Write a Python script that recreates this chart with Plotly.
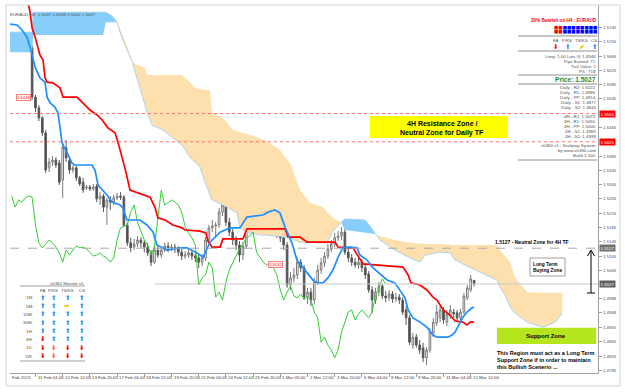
import plotly.graph_objects as go

FONT = "Liberation Sans"
SYM = "DejaVu Sans"

# ---------------- data ----------------
header_text = "EURAUD,H4  1.5037 1.5038 1.5020 1.5027"

bar_index = list(range(137))
opens = [1.5710,1.5699,1.5716,1.5704,1.5718,1.5696,1.5688,1.5550,1.5520,1.5492,
         1.5450,1.5352,1.5368,1.5374,1.5366,1.5318,1.5408,1.5374,1.5346,1.5352,
         1.5324,1.5312,1.5296,1.5298,1.5293,1.5301,1.5265,1.5273,1.5242,1.5262,
         1.5256,1.5268,1.5273,1.5270,1.5192,1.5142,1.5130,1.5139,1.5150,1.5142,
         1.5130,1.5114,1.5088,1.5122,1.5108,1.5122,1.5133,1.5128,1.5130,1.5125,
         1.5116,1.5105,1.5108,1.5114,1.5105,1.5100,1.5088,1.5100,1.5150,1.5184,
         1.5189,1.5192,1.5228,1.5248,1.5200,1.5172,1.5150,1.5136,1.5108,1.5133,
         1.5214,1.5290,1.5248,1.5256,1.5262,1.5256,1.5248,1.5228,1.5189,1.5170,
         1.5156,1.5136,1.5024,1.5044,1.5052,1.5088,1.5072,1.4990,1.5004,1.4982,
         1.5032,1.5066,1.5086,1.5105,1.5125,1.5139,1.5156,1.5161,1.5172,1.5116,
         1.5100,1.5088,1.5080,1.5088,1.5072,1.5055,1.5010,1.4982,1.5004,1.5021,
         1.4993,1.4988,1.4999,1.4985,1.4990,1.4982,1.4954,1.4932,1.4856,1.4878,
         1.4856,1.4848,1.4820,1.4842,1.4890,1.4918,1.4932,1.4954,1.4920,1.4937,
         1.4948,1.4946,1.4932,1.4948,1.4988,1.5010,1.5037]
highs = [1.5721,1.5724,1.5727,1.5730,1.5724,1.5704,1.5696,1.5556,1.5528,1.5497,
         1.5458,1.5380,1.5385,1.5382,1.5374,1.5424,1.5430,1.5385,1.5360,1.5357,
         1.5329,1.5324,1.5304,1.5304,1.5307,1.5307,1.5284,1.5279,1.5268,1.5273,
         1.5276,1.5282,1.5284,1.5276,1.5200,1.5156,1.5153,1.5161,1.5158,1.5150,
         1.5142,1.5122,1.5133,1.5133,1.5130,1.5142,1.5144,1.5139,1.5139,1.5133,
         1.5125,1.5119,1.5125,1.5122,1.5116,1.5111,1.5111,1.5158,1.5192,1.5206,
         1.5200,1.5240,1.5268,1.5254,1.5212,1.5181,1.5161,1.5147,1.5144,1.5223,
         1.5324,1.5318,1.5273,1.5276,1.5273,1.5268,1.5262,1.5237,1.5198,1.5184,
         1.5170,1.5144,1.5060,1.5072,1.5100,1.5097,1.5080,1.5016,1.5016,1.5044,
         1.5080,1.5100,1.5116,1.5139,1.5150,1.5170,1.5175,1.5186,1.5181,1.5128,
         1.5111,1.5100,1.5102,1.5097,1.5083,1.5063,1.5021,1.5016,1.5032,1.5027,
         1.5007,1.5010,1.5007,1.5002,1.4999,1.4990,1.4965,1.4940,1.4890,1.4887,
         1.4870,1.4862,1.4850,1.4904,1.4932,1.4968,1.4965,1.4962,1.4954,1.4968,
         1.4957,1.4954,1.4957,1.5002,1.5024,1.5052,1.5038]
lows = [1.5690,1.5688,1.5693,1.5696,1.5682,1.5676,1.5542,1.5508,1.5483,1.5441,
        1.5338,1.5340,1.5357,1.5352,1.5304,1.5268,1.5368,1.5335,1.5338,1.5315,
        1.5301,1.5282,1.5290,1.5287,1.5287,1.5256,1.5248,1.5228,1.5192,1.5234,
        1.5248,1.5262,1.5262,1.5186,1.5133,1.5116,1.5122,1.5130,1.5128,1.5116,
        1.5105,1.5077,1.5083,1.5100,1.5100,1.5116,1.5116,1.5119,1.5114,1.5105,
        1.5094,1.5097,1.5100,1.5094,1.5088,1.5072,1.5077,1.5091,1.5142,1.5172,
        1.5156,1.5184,1.5217,1.5189,1.5161,1.5136,1.5122,1.5088,1.5094,1.5125,
        1.5206,1.5234,1.5240,1.5245,1.5242,1.5237,1.5220,1.5178,1.5156,1.5144,
        1.5122,1.5016,1.5010,1.5032,1.5041,1.5060,1.4982,1.4971,1.4965,1.4971,
        1.5024,1.5055,1.5074,1.5097,1.5116,1.5130,1.5147,1.5150,1.5108,1.5088,
        1.5077,1.5072,1.5069,1.5060,1.5041,1.5002,1.4946,1.4971,1.4993,1.4985,
        1.4976,1.4979,1.4974,1.4976,1.4971,1.4940,1.4912,1.4856,1.4845,1.4848,
        1.4831,1.4808,1.4800,1.4834,1.4878,1.4909,1.4920,1.4915,1.4909,1.4929,
        1.4932,1.4923,1.4926,1.4943,1.4982,1.5004,1.5020]
closes = [1.5699,1.5716,1.5704,1.5721,1.5696,1.5688,1.5550,1.5520,1.5492,1.5450,
          1.5346,1.5368,1.5374,1.5360,1.5312,1.5410,1.5380,1.5346,1.5352,1.5324,
          1.5307,1.5290,1.5298,1.5293,1.5298,1.5265,1.5273,1.5242,1.5262,1.5256,
          1.5268,1.5273,1.5270,1.5192,1.5142,1.5128,1.5139,1.5150,1.5142,1.5130,
          1.5114,1.5088,1.5122,1.5108,1.5122,1.5133,1.5128,1.5130,1.5125,1.5116,
          1.5105,1.5108,1.5114,1.5105,1.5100,1.5088,1.5100,1.5150,1.5184,1.5189,
          1.5192,1.5228,1.5248,1.5200,1.5172,1.5150,1.5136,1.5108,1.5133,1.5214,
          1.5290,1.5248,1.5256,1.5262,1.5256,1.5248,1.5228,1.5189,1.5170,1.5156,
          1.5136,1.5024,1.5044,1.5052,1.5088,1.5072,1.4990,1.5004,1.4982,1.5032,
          1.5066,1.5086,1.5105,1.5125,1.5139,1.5156,1.5161,1.5172,1.5116,1.5100,
          1.5088,1.5080,1.5088,1.5072,1.5052,1.5010,1.4982,1.5004,1.5021,1.4993,
          1.4988,1.4999,1.4985,1.4990,1.4982,1.4948,1.4932,1.4864,1.4878,1.4856,
          1.4842,1.4820,1.4842,1.4892,1.4920,1.4948,1.4954,1.4926,1.4943,1.4954,
          1.4943,1.4932,1.4948,1.4993,1.5016,1.5041,1.5027]
chikou_shift = 26

kijun_bar = [4.8,5.4,6.0,6.9,8.3,9.2,9.8,10.4,12.1,14.2,15.1,19.2,20.7,23.0,25.1,
             26.6,28.3,30.4,31.3,33.3,34.8,37.1,40.7,42.1,43.0,45.1,47.4,50.1,51.0,55.4,
             57.1,57.7,58.9,61.3,62.1,68.0,69.2,80.4,81.3,84.8,86.9,95.1,96.0,100.4,101.6,
             103.3,115.1,116.6,117.4,120.1,122.1,123.9,125.1,126.9,128.9,130.4,132.7,133.9,134.8,136.0]
kijun = [1.5814,1.5788,1.5744,1.5718,1.5668,1.5654,1.5604,1.5592,1.5590,1.5576,1.5550,1.5550,1.5536,1.5514,1.5500,
         1.5486,1.5464,1.5450,1.5422,1.5352,1.5290,1.5282,1.5270,1.5242,1.5212,1.5206,1.5192,1.5184,1.5178,1.5175,
         1.5170,1.5147,1.5130,1.5130,1.5153,1.5153,1.5181,1.5181,1.5158,1.5158,1.5144,1.5144,1.5130,1.5128,1.5108,
         1.5083,1.5074,1.5052,1.5030,1.5024,1.5010,1.4990,1.4982,1.4954,1.4940,1.4923,1.4920,1.4912,1.4920,1.4920]

tenkan_bar = [-0.8,1.6,3.0,4.5,5.4,6.9,8.3,9.8,10.4,11.3,12.7,13.6,14.2,14.8,16.6,17.7,18.6,23.6,24.5,25.4,
              28.0,29.5,31.9,32.7,33.9,37.7,39.8,41.6,42.7,45.7,49.5,51.6,54.5,56.3,58.3,61.3,64.2,67.1,69.2,73.9,
              75.4,77.4,78.9,80.4,82.4,83.9,86.9,88.6,89.8,91.6,93.0,94.5,96.0,97.4,99.5,101.6,102.4,104.5,106.3,108.9,
              110.4,112.7,114.2,115.7,116.6,118.0,120.1,122.1,123.9,125.1,128.3,129.5,130.4,131.8,132.7,133.9,135.4,136.0]
tenkan = [1.5755,1.5752,1.5738,1.5718,1.5690,1.5634,1.5604,1.5592,1.5550,1.5534,1.5522,1.5506,1.5466,1.5422,1.5388,1.5366,1.5360,1.5360,1.5346,1.5304,
          1.5276,1.5256,1.5248,1.5240,1.5206,1.5206,1.5192,1.5172,1.5136,1.5122,1.5128,1.5128,1.5114,1.5102,1.5144,1.5172,1.5184,1.5184,1.5214,1.5220,
          1.5228,1.5234,1.5226,1.5186,1.5142,1.5094,1.5058,1.5038,1.5030,1.5030,1.5044,1.5066,1.5102,1.5128,1.5130,1.5128,1.5108,1.5094,1.5072,1.5052,
          1.5038,1.5030,1.5010,1.4988,1.4954,1.4932,1.4920,1.4906,1.4884,1.4878,1.4878,1.4884,1.4892,1.4920,1.4934,1.4948,1.4960,1.4962]

cloud_bar = [-0.5,6.0,6.3,26.9,27.7,29.5,31.0,31.9,33.3,33.9,35.4,35.7,36.3,37.7,38.6,39.2,39.8,41.3,44.5,49.5,
             50.1,52.4,53.9,55.4,56.9,58.3,58.9,62.1,65.1,66.3,67.1,69.2,70.1,73.0,74.5,78.9,81.0,81.9,84.8,87.7,
             91.6,92.7,94.5,96.0,96.9,98.0,103.9,105.4,106.9,108.3,112.7,117.1,120.1,121.6,126.0,128.9,130.4,136.3,142.7,143.6,
             145.1,146.6,148.0,151.6,156.3,159.9,161.9]
span_a = [1.5732,1.5732,1.5788,1.5788,1.5788,1.5777,1.5760,1.5730,1.5696,1.5682,1.5651,1.5640,1.5620,1.5576,1.5550,1.5528,1.5506,1.5472,1.5458,1.5422,
          1.5416,1.5382,1.5368,1.5354,1.5310,1.5273,1.5262,1.5248,1.5231,1.5226,1.5184,1.5170,1.5170,1.5164,1.5164,1.5161,1.5158,1.5156,1.5144,1.5144,
          1.5142,1.5142,1.5175,1.5192,1.5200,1.5209,1.5206,1.5189,1.5167,1.5150,1.5122,1.5100,1.5088,1.5108,1.5116,1.5114,1.5094,1.5066,1.5038,1.5018,
          1.4996,1.4962,1.4946,1.4920,1.4906,1.4920,1.4946]
span_b = [1.5676,1.5676,1.5724,1.5724,1.5760,1.5760,1.5760,1.5741,1.5710,1.5693,1.5654,1.5648,1.5643,1.5637,1.5634,1.5632,1.5612,1.5612,1.5612,1.5612,
          1.5612,1.5592,1.5576,1.5573,1.5570,1.5570,1.5508,1.5492,1.5458,1.5455,1.5452,1.5447,1.5444,1.5436,1.5430,1.5402,1.5374,1.5366,1.5290,1.5254,
          1.5242,1.5228,1.5212,1.5203,1.5200,1.5178,1.5172,1.5170,1.5167,1.5161,1.5150,1.5142,1.5139,1.5139,1.5139,1.5136,1.5136,1.5136,1.5136,1.5122,
          1.5105,1.5088,1.5046,1.5004,1.5002,1.5002,1.5002]

resistance_levels = [1.5504, 1.5425]
neutral_level = 1.5127
bid_price = 1.5027
bid_line_start_bar = 42
support_zone = (1.4859, 1.4904)
support_zone_bars = (142.7, 171.9)

ytick_vals = [1.5745,1.5705,1.5665,1.5625,1.5585,1.5545,1.5465,1.5385,1.5345,1.5305,1.5265,
              1.5225,1.5185,1.5145,1.5105,1.5065,1.4986,1.4946,1.4905,1.4865,1.4825,1.4785]
time_label_bars = [7,15,23,31,39,47,55,63,71,79,87,95,103,111,119,127,135]
time_labels = ["11 Feb 04:00","12 Feb 12:00","13 Feb 20:00","17 Feb 04:00","18 Feb 12:00",
               "19 Feb 20:00","21 Feb 04:00","24 Feb 12:00","25 Feb 20:00","1 Mar 05:00",
               "2 Mar 12:00","3 Mar 20:00","5 Mar 04:00","8 Mar 12:00","9 Mar 20:00",
               "11 Mar 04:00","12 Mar 12:00"]

panel_info = ["Long: 1.00 Lots @ 1.4946", "Pips Earned: 71", "Tick Value: 1", "P/L: 71$"]
daily_pivots = [("R2", "1.5022"), ("R1", "1.4986"), ("PP", "1.4914"), ("S1", "1.4877"), ("S2", "1.4845")]
h4_pivots = [("R2", "1.5073"), ("R1", "1.5050"), ("PP", "1.5000"), ("S1", "1.4983"), ("S2", "1.4939")]
signal_cols = ["FA", "P/KS", "TS/KS", "CS"]
h4_signals = ["d", "u", "ur", "u"]
bearish_pct = 20
timeframes = ["1M:", "5M:", "15M:", "30M:", "1H:", "4H:", "1D:", "1W:"]
monitor = [["u","u","u","u"],["u","u","r","u"],["u","u","u","u"],["u","u","u","u"],
           ["u","u","u","u"],["d","u","u","u"],["d","d2","d","d"],["d","d2","d","d"]]

# ---------------- geometry helpers (page pixels -> paper) ----------------
PL, PT, PW, PH = 10, 5, 588, 368
def px(x): return (x - PL) / PW
def py(y): return (PT + PH - y) / PH
BAR_W = 3.4
x_range = [-0.5, -0.5 + PW / BAR_W]
y_range = [1.5822 - 0.00028 * 373, 1.5822 - 0.00028 * 5]

fig = go.Figure()

# cloud
upper = [max(a, b) for a, b in zip(span_a, span_b)]
fig.add_trace(go.Scatter(x=cloud_bar, y=span_a, mode="lines", line=dict(width=0), hoverinfo="skip"))
fig.add_trace(go.Scatter(x=cloud_bar, y=upper, mode="lines", line=dict(width=0), fill="tonexty",
                         fillcolor="#FEDFAE", hoverinfo="skip"))
fig.add_trace(go.Scatter(x=cloud_bar, y=span_b, mode="lines", line=dict(width=0), hoverinfo="skip"))
fig.add_trace(go.Scatter(x=cloud_bar, y=upper, mode="lines", line=dict(width=0), fill="tonexty",
                         fillcolor="#87CEFA", hoverinfo="skip"))
fig.add_trace(go.Scatter(x=cloud_bar, y=span_a, mode="lines", line=dict(width=0.8, color="#9ACDF0"), hoverinfo="skip"))

# candles
fig.add_trace(go.Candlestick(x=bar_index, open=opens, high=highs, low=lows, close=closes,
                             increasing=dict(line=dict(color="#7a7a7a", width=1), fillcolor="#ffffff"),
                             decreasing=dict(line=dict(color="#5a5a5a", width=1), fillcolor="#4a4a4a"),
                             whiskerwidth=0, hoverinfo="skip"))

# chikou (close shifted back)
fig.add_trace(go.Scatter(x=[b - chikou_shift for b in bar_index[chikou_shift:]], y=closes[chikou_shift:],
                         mode="lines", line=dict(color="#32CD32", width=1), hoverinfo="skip"))
fig.add_trace(go.Scatter(x=kijun_bar, y=kijun, mode="lines", line=dict(color="#FF0000", width=1.7), hoverinfo="skip"))
fig.add_trace(go.Scatter(x=tenkan_bar, y=tenkan, mode="lines", line=dict(color="#1E8FFF", width=1.7), hoverinfo="skip"))

shapes = []
def line_px(x0, y0, x1, y1, color="#909090", width=1, dash=None):
    shapes.append(dict(type="line", xref="paper", yref="paper", x0=px(x0), y0=py(y0), x1=px(x1), y1=py(y1),
                       line=dict(color=color, width=width, dash=dash)))
def rect_px(x0, y0, x1, y1, fill, line="rgba(0,0,0,0)", width=1):
    shapes.append(dict(type="rect", xref="paper", yref="paper", x0=px(x0), y0=py(y0), x1=px(x1), y1=py(y1),
                       fillcolor=fill, line=dict(color=line, width=width)))

# horizontal price levels
for lv in resistance_levels:
    shapes.append(dict(type="line", xref="paper", yref="y", x0=0, x1=1, y0=lv, y1=lv,
                       line=dict(color="#FF7070", width=1, dash="dot")))
shapes.append(dict(type="line", xref="paper", yref="y", x0=0, x1=1, y0=neutral_level, y1=neutral_level,
                   line=dict(color="#A8A8A8", width=1, dash="dash")))
shapes.append(dict(type="line", xref="x", yref="y", x0=bid_line_start_bar, x1=x_range[1], y0=bid_price, y1=bid_price,
                   line=dict(color="#C8C8C8", width=1)))

# outer frame
rect_px(6, 5, 620, 386, "rgba(0,0,0,0)", "#D4D4D4")

# yellow resistance box
rect_px(370, 116, 508, 138, "#FFFF00")
# support zone box
shapes.append(dict(type="rect", xref="x", yref="y", x0=support_zone_bars[0], x1=support_zone_bars[1],
                   y0=support_zone[0], y1=support_zone[1], fillcolor="#B5E61D", line=dict(width=0)))
# long term buying zone box
rect_px(530, 258, 565, 276, "#FFFFFF", "#A0A0A0")
# vertical range arrow
line_px(591, 251, 591, 293, "#000000", 1)
line_px(587.5, 256, 591, 250, "#000000", 1)
line_px(594.5, 256, 591, 250, "#000000", 1)
line_px(587, 293, 595, 293, "#000000", 1)

# right panel separators
for yy in [36, 51, 75, 84, 160]:
    line_px(518, yy, 597, yy, "#909090", 1)
# monitor separators
line_px(20, 286, 85, 286, "#A0A0A0", 1)
line_px(20, 361, 85, 361, "#A0A0A0", 1)

anns = []
def text_px(text, x, y, size=4.6, color="#505050", bold=False, xanchor="left", family=FONT,
            bgcolor="rgba(0,0,0,0)", bordercolor="rgba(0,0,0,0)", borderpad=0):
    if bold:
        text = "<b>" + text + "</b>"
    anns.append(dict(text=text, x=px(x), y=py(y), xref="paper", yref="paper", xanchor=xanchor,
                     yanchor="middle", showarrow=False, font=dict(family=family, size=size, color=color),
                     bgcolor=bgcolor, bordercolor=bordercolor, borderpad=borderpad,
                     borderwidth=1 if bordercolor != "rgba(0,0,0,0)" else 0))

text_px(header_text, 10, 14, 4.4, "#505050")

# time axis labels
text_px("Feb 2013", 12, 378, 4.4, "#404040")
for b, lab in zip(time_label_bars, time_labels):
    anns.append(dict(text=lab, x=b, y=py(378), xref="x", yref="paper", xanchor="left", yanchor="middle",
                     showarrow=False, font=dict(family=FONT, size=4.4, color="#404040")))

# price axis special labels
def price_label(val, bg):
    anns.append(dict(text=f"{val:.4f}", x=1.0, y=val, xref="paper", yref="y", xanchor="left", yanchor="middle",
                     xshift=1, showarrow=False, font=dict(family=FONT, size=4.4, color="#FFFFFF"),
                     bgcolor=bg, borderpad=0.5))
price_label(resistance_levels[0], "#FF0000")
price_label(resistance_levels[1], "#FF0000")
price_label(neutral_level, "#707070")
price_label(bid_price, "#606060")

# small object labels
text_px("1.5449", 16, 98, 4.2, "#FF3030", bgcolor="#FFF0F0", bordercolor="#FF8080")
text_px("1.5092", 268, 264, 4.2, "#FF3030", bgcolor="#FFF0F0", bordercolor="#FF8080")

# resistance box text
text_px("4H Resistance Zone /", 442, 123, 7, "#000000", True, "center")
text_px("Neutral Zone for Daily TF", 442, 132.5, 7, "#000000", True, "center")
text_px(f"{neutral_level:.4f} - Neutral Zone for 4H TF", 495, 242, 5, "#000000", True)
text_px("Long Term", 533, 264, 4.8, "#000000", True)
text_px("Buying Zone", 533, 270, 4.8, "#000000", True)
text_px("Support Zone", 546, 336, 6, "#000000", True, "center")
for i, t in enumerate(["This Region must act as a Long Term", "Support Zone if in order to maintain",
                       "this Bullish Scenerio ..."]):
    text_px(t, 497, 353 + 7 * i, 5.5, "#000000", True)

# right info panel
ARROW = {"u": ("\u2b06", "#1E8FFF"), "d": ("\u2b07", "#FF0000"), "d2": ("\u2b07", "#FF5A36"),
         "r": ("\u27a1", "#FFC000"), "ur": ("\u2b08", "#FFC000")}
text_px(f"{bearish_pct}% Bearish on H4 : EURAUD", 597, 20, 4.6, "#FF0000", True, "right")
n_red = bearish_pct // 10
sq = "<span style='color:#FF0000'>" + "\u25a0" * n_red + "</span><span style='color:#0000FF'>" + "\u25a0" * (10 - n_red) + "</span>"
text_px(sq, 597, 27, 4.6, "#0000FF", False, "right", SYM)
text_px(sq, 597, 31.5, 4.6, "#0000FF", False, "right", SYM)
col_x = [555, 567, 581, 594]
for cx, c, s in zip(col_x, signal_cols, h4_signals):
    text_px(c, cx, 40, 4.4, "#505050", False, "center")
    g, col = ARROW[s]
    text_px(g, cx, 46.5, 6.5, col, False, "center", SYM)
for i, t in enumerate(panel_info):
    text_px(t, 596, 56 + 5 * i, 4.4, "#505050", False, "right")
text_px(f"Price: {bid_price:.4f}", 596, 80, 6.6, "#1E8C3C", True, "right")
for i, (k, v) in enumerate(daily_pivots):
    text_px(f"Daily - {k}: {v}", 596, 88 + 5 * i, 4.4, "#505050", False, "right")
for i, (k, v) in enumerate(h4_pivots):
    text_px(f"4H - {k}: {v}", 596, 116.5 + 5 * i, 4.4, "#505050", False, "right")
for i, t in enumerate(["sh360 v1 - Scalping System", "by www.sh360.com", "Build 1.100"]):
    text_px(t, 596, 145 + 5 * i, 4.4, "#505050", False, "right")

# monitor panel
text_px("sh360 Monitor v1", 84, 283, 4.4, "#505050", False, "right")
mon_x = [42.3, 53.3, 67.3, 81.7]
for cx, c in zip(mon_x, signal_cols):
    text_px(c, cx, 290, 4.4, "#505050", False, "center")
for r, (tf, row) in enumerate(zip(timeframes, monitor)):
    yy = 297.7 + 8.33 * r
    text_px(tf, 33, yy, 4.4, "#505050", False, "right")
    for cx, s in zip(mon_x, row):
        g, col = ARROW[s]
        text_px(g, cx, yy, 6.5, col, False, "center", SYM)

fig.update_layout(
    width=625, height=392, margin=dict(l=PL, r=625 - PL - PW, t=PT, b=392 - PT - PH),
    paper_bgcolor="#FFFFFF", plot_bgcolor="#FFFFFF", showlegend=False,
    shapes=shapes, annotations=anns,
    xaxis=dict(range=x_range, showgrid=False, zeroline=False, showline=True, linecolor="#A0A0A0", linewidth=1,
               ticks="outside", ticklen=3, tickcolor="#A0A0A0", tickvals=time_label_bars,
               showticklabels=False, rangeslider=dict(visible=False), fixedrange=True),
    yaxis=dict(range=y_range, side="right", showgrid=False, zeroline=False, showline=True, linecolor="#A0A0A0",
               linewidth=1, ticks="outside", ticklen=3, tickcolor="#A0A0A0", tickvals=ytick_vals,
               ticktext=[f"{v:.4f}" for v in ytick_vals], tickfont=dict(family=FONT, size=4.4, color="#505050"),
               fixedrange=True),
)

fig.write_html("out.html", config={"displayModeBar": False})
